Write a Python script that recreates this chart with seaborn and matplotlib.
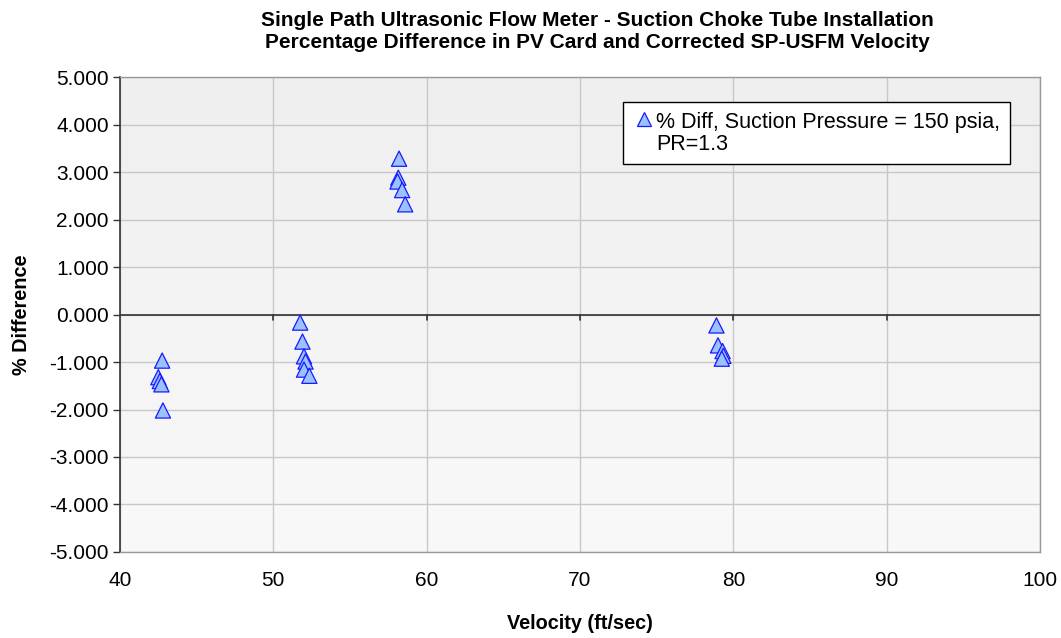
import numpy as np
import pandas as pd
import matplotlib
matplotlib.use("Agg")
import matplotlib.pyplot as plt
import seaborn as sns
from matplotlib.colors import LinearSegmentedColormap

velocity = [42.75, 42.5, 42.6, 42.7, 42.8,
            51.75, 51.9, 52.0, 52.1, 52.0, 52.35,
            58.2, 58.15, 58.1, 58.4, 58.6,
            78.9, 79.0, 79.3, 79.35, 79.25]
pct_diff = [-0.97, -1.32, -1.40, -1.47, -2.02,
            -0.17, -0.57, -0.88, -0.99, -1.16, -1.29,
            3.28, 2.88, 2.80, 2.62, 2.32,
            -0.23, -0.65, -0.77, -0.87, -0.93]
series_name = "% Diff, Suction Pressure = 150 psia,\nPR=1.3"
x_ticks = [40, 50, 60, 70, 80, 90, 100]
y_ticks = [-5, -4, -3, -2, -1, 0, 1, 2, 3, 4, 5]

df = pd.DataFrame({"Velocity": velocity, "Diff": pct_diff, "Series": series_name})

sns.set_theme(style="white")
plt.rcParams["font.family"] = ["Liberation Sans", "DejaVu Sans"]
plt.rcParams["text.color"] = "black"
plt.rcParams["axes.labelcolor"] = "black"
plt.rcParams["xtick.color"] = "black"
plt.rcParams["ytick.color"] = "black"

fig = plt.figure(figsize=(10.61, 6.38), dpi=100)
ax = fig.add_axes([0.1131, 0.1348, 0.9802 - 0.1131, 0.8793 - 0.1348])

# background gradient (darker at top)
cmap = LinearSegmentedColormap.from_list("bg", ["#efefef", "#f9f9f9"])
grad = np.linspace(0, 1, 256).reshape(-1, 1)
ax.imshow(grad, aspect="auto", cmap=cmap, extent=[40, 100, -5, 5], zorder=0,
          origin="upper")
ax.set_xlim(40, 100)
ax.set_ylim(-5, 5)

ax.set_xticks(x_ticks)
ax.set_yticks(y_ticks)
ax.grid(True, color="#c8c8c8", linewidth=1.0, zorder=1)
ax.set_axisbelow(True)

ax.axhline(0, color="#333333", linewidth=1.2, zorder=2)
for xt in x_ticks[1:-1]:
    ax.plot([xt, xt], [0, -0.12], color="#333333", linewidth=1.2, zorder=2)

sns.scatterplot(data=df, x="Velocity", y="Diff", hue="Series", ax=ax,
                marker="^", s=120, palette=["#99c2ff"], edgecolor="#1a1aff",
                linewidth=0.9, zorder=3)

ax.yaxis.set_major_formatter(matplotlib.ticker.FormatStrFormatter("%.3f"))
ax.tick_params(axis="both", labelsize=15, labelcolor="black")
ax.tick_params(axis="y", length=5, width=1, direction="out", left=True,
               color="#333333", pad=3)
ax.tick_params(axis="x", length=0, pad=14)

for side in ["top", "right", "bottom"]:
    ax.spines[side].set_color("#999999")
    ax.spines[side].set_linewidth(1)
ax.spines["left"].set_color("#333333")
ax.spines["left"].set_linewidth(1.2)

ax.set_xlabel("Velocity (ft/sec)", fontsize=14.3, fontweight="bold", labelpad=17)
ax.set_ylabel("% Difference", fontsize=14.3, fontweight="bold", labelpad=13)
ttl = ax.set_title("Single Path Ultrasonic Flow Meter - Suction Choke Tube Installation\n"
                   "Percentage Difference in PV Card and Corrected SP-USFM Velocity",
                   fontsize=15, fontweight="bold", pad=21, linespacing=1.2)
ttl.set_x(0.5185)

leg = ax.legend(loc="upper left", bbox_to_anchor=(0.5468, 0.9468), frameon=True,
                fancybox=False, framealpha=1, edgecolor="#000000", fontsize=15.5,
                handletextpad=0.1, borderpad=0.45, handlelength=1.0,
                markerscale=0.95, borderaxespad=0)
leg.get_frame().set_linewidth(1.0)
for t in leg.get_texts():
    t.set_linespacing(1.05)
try:
    for col in leg._legend_handle_box.get_children():
        for item in col.get_children():
            item.align = "top"
except Exception:
    pass

fig.savefig("out.png", dpi=100)
